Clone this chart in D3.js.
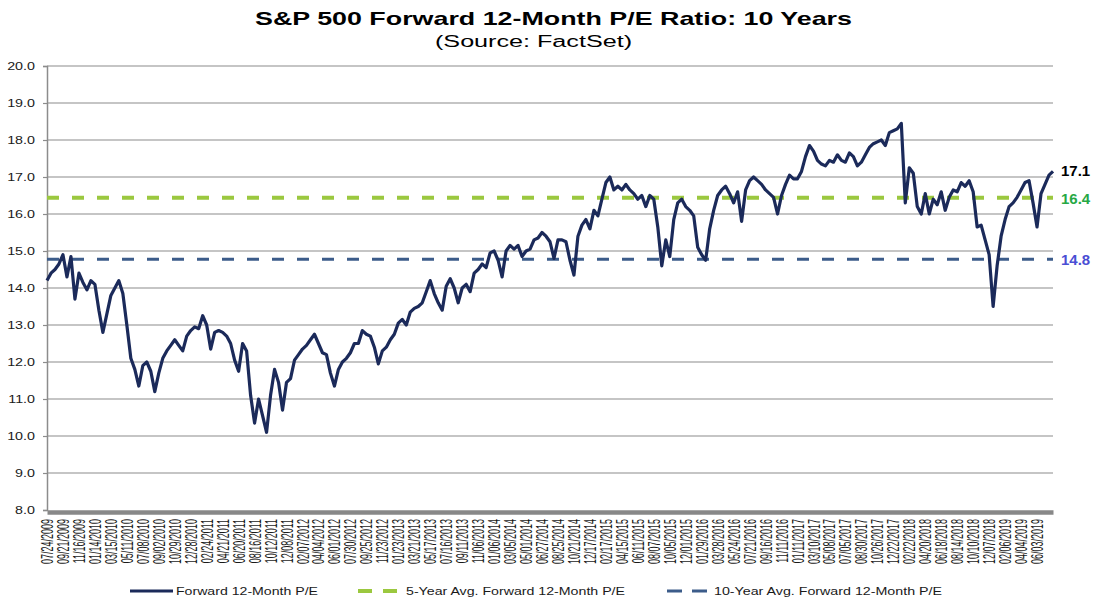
<!DOCTYPE html>
<html lang="en">
<head>
<meta charset="utf-8">
<title>S&amp;P 500 Forward 12-Month P/E Ratio: 10 Years</title>
<script src="https://cdn.jsdelivr.net/npm/d3@7"></script>
<style>
  body { margin: 0; background: #fff; }
  svg text { font-family: "Liberation Sans", Arial, sans-serif; }
</style>
</head>
<body>
<script>
// x-axis category labels, one every 40 trading days
var dateLabels = [
  "07/24/2009","09/21/2009","11/16/2009","01/14/2010","03/15/2010","05/11/2010","07/08/2010",
  "09/02/2010","10/29/2010","12/28/2010","02/24/2011","04/21/2011","06/20/2011","08/16/2011",
  "10/12/2011","12/08/2011","02/07/2012","04/04/2012","06/01/2012","07/30/2012","09/25/2012",
  "11/23/2012","01/23/2013","03/21/2013","05/17/2013","07/16/2013","09/11/2013","11/06/2013",
  "01/06/2014","03/05/2014","05/01/2014","06/27/2014","08/25/2014","10/21/2014","12/17/2014",
  "02/17/2015","04/15/2015","06/11/2015","08/07/2015","10/05/2015","12/01/2015","01/29/2016",
  "03/28/2016","05/24/2016","07/21/2016","09/16/2016","11/11/2016","01/11/2017","03/10/2017",
  "05/08/2017","07/05/2017","08/30/2017","10/26/2017","12/22/2017","02/22/2018","04/20/2018",
  "06/18/2018","08/14/2018","10/10/2018","12/07/2018","02/06/2019","04/04/2019","06/03/2019"
];
var samplesPerLabel = 4; // one value read every 10 trading days

// forward 12-month P/E
var forwardPE = [
  14.2,14.4,14.5,14.65,14.9,14.3,14.85,13.7,14.4,14.15,13.95,14.2,14.1,13.4,12.8,13.3,
  13.8,14.0,14.2,13.85,13.0,12.1,11.8,11.35,11.9,12.0,11.75,11.2,11.7,12.1,12.3,12.45,
  12.6,12.45,12.3,12.7,12.85,12.95,12.9,13.25,13.0,12.35,12.8,12.85,12.8,12.7,12.5,12.05,
  11.75,12.5,12.3,11.1,10.35,11.0,10.55,10.1,11.1,11.8,11.45,10.7,11.45,11.55,12.05,12.2,
  12.35,12.45,12.6,12.75,12.5,12.25,12.2,11.7,11.35,11.8,12.0,12.1,12.25,12.5,12.5,12.85,
  12.75,12.7,12.4,11.95,12.3,12.4,12.6,12.75,13.05,13.15,13.0,13.35,13.45,13.5,13.6,13.9,
  14.2,13.85,13.6,13.4,14.05,14.25,14.0,13.6,14.0,14.1,13.9,14.4,14.5,14.65,14.55,14.95,
  15.0,14.75,14.3,15.0,15.15,15.05,15.15,14.85,15.0,15.05,15.3,15.35,15.5,15.4,15.25,14.8,
  15.3,15.3,15.25,14.75,14.35,15.4,15.7,15.85,15.6,16.1,15.95,16.4,16.85,17.0,16.65,16.75,
  16.65,16.8,16.65,16.55,16.4,16.5,16.2,16.5,16.4,15.65,14.6,15.3,14.85,15.85,16.3,16.4,
  16.2,16.1,15.95,15.1,14.9,14.75,15.6,16.1,16.5,16.65,16.75,16.55,16.3,16.6,15.8,16.65,
  16.9,17.0,16.9,16.8,16.65,16.55,16.45,16.0,16.5,16.8,17.05,16.95,16.95,17.15,17.55,17.85,
  17.7,17.45,17.35,17.3,17.45,17.4,17.6,17.45,17.4,17.65,17.55,17.3,17.4,17.6,17.8,17.9,
  17.95,18.0,17.85,18.2,18.25,18.3,18.45,16.3,17.25,17.1,16.2,16.0,16.55,16.0,16.4,16.25,
  16.6,16.1,16.45,16.65,16.6,16.85,16.75,16.9,16.6,15.65,15.7,15.3,14.9,13.5,14.6,15.4,
  15.85,16.2,16.3,16.45,16.65,16.85,16.9,16.3,15.65,16.55,16.8,17.05,17.15
];

var avg5 = 16.44;
var avg10 = 14.78;
var yTicks = [8, 9, 10, 11, 12, 13, 14, 15, 16, 17, 18, 19, 20];
var legendLabels = [
  "Forward 12-Month P/E",
  "5-Year Avg. Forward 12-Month P/E",
  "10-Year Avg. Forward 12-Month P/E"
];

var W = 1111, H = 613;
var plotL = 47, plotR = 1053, plotT = 66, plotB = 510;
var navy = "#1b2a5a", green = "#9bc83f", steel = "#3c5c8a", grid = "#8c8c8c";

var svg = d3.select("body").append("svg")
  .attr("width", W).attr("height", H);

var x = d3.scaleLinear().domain([0, forwardPE.length - 1]).range([plotL, plotR]);
var y = d3.scaleLinear().domain([8, 20]).range([plotB, plotT]);

// title
svg.append("text")
  .attr("x", 255).attr("y", 25)
  .attr("font-size", 19).attr("font-weight", "bold")
  .attr("textLength", 597).attr("lengthAdjust", "spacingAndGlyphs")
  .text("S&P 500 Forward 12-Month P/E Ratio: 10 Years");
svg.append("text")
  .attr("x", 435).attr("y", 47)
  .attr("font-size", 16)
  .attr("textLength", 197).attr("lengthAdjust", "spacingAndGlyphs")
  .text("(Source: FactSet)");

// grid lines
svg.append("g")
  .selectAll("line")
  .data(yTicks.slice(1))
  .enter().append("line")
  .attr("x1", plotL).attr("x2", plotR)
  .attr("y1", function (d) { return y(d); })
  .attr("y2", function (d) { return y(d); })
  .attr("stroke", grid).attr("stroke-width", 1.2);

// y axis
var yAxis = svg.append("g")
  .attr("transform", "translate(" + plotL + ",0)")
  .call(d3.axisLeft(y).tickValues(yTicks).tickSize(4).tickFormat(d3.format(".1f")));
yAxis.select(".domain").attr("stroke", grid).attr("stroke-width", 1.5);
yAxis.selectAll(".tick line").attr("stroke", grid).attr("stroke-width", 1.2);
yAxis.selectAll(".tick text")
  .attr("x", null).attr("dy", null)
  .attr("transform", "translate(-12,0) scale(1.3,1)")
  .attr("dominant-baseline", "central")
  .attr("font-size", 11).attr("fill", "#1a1a1a")
  .style("font-family", "'Liberation Sans', Arial, sans-serif");

// x axis
var xAxis = svg.append("g")
  .attr("transform", "translate(0," + (plotB + 2) + ")")
  .call(d3.axisBottom(x)
    .tickValues(dateLabels.map(function (d, i) { return i * samplesPerLabel; }))
    .tickSize(0)
    .tickFormat(function (d) { return dateLabels[d / samplesPerLabel]; }));
xAxis.select(".domain").attr("stroke", "#888").attr("stroke-width", 4.5);
xAxis.selectAll(".tick text")
  .attr("y", null).attr("dy", null)
  .attr("transform", "translate(0,7) scale(1.75,1) rotate(-90)")
  .attr("text-anchor", "end")
  .attr("dominant-baseline", "central")
  .attr("font-size", 9).attr("fill", "#1a1a1a")
  .style("font-family", "'Liberation Sans', Arial, sans-serif");

// average lines
svg.append("line")
  .attr("x1", plotL).attr("x2", plotR)
  .attr("y1", y(avg5)).attr("y2", y(avg5))
  .attr("stroke", green).attr("stroke-width", 4)
  .attr("stroke-dasharray", "12,13");
svg.append("line")
  .attr("x1", plotL).attr("x2", plotR)
  .attr("y1", y(avg10)).attr("y2", y(avg10))
  .attr("stroke", steel).attr("stroke-width", 3)
  .attr("stroke-dasharray", "12,13");

// P/E series
var line = d3.line()
  .x(function (d, i) { return x(i); })
  .y(function (d) { return y(d); });
svg.append("path")
  .datum(forwardPE)
  .attr("d", line)
  .attr("fill", "none")
  .attr("stroke", navy).attr("stroke-width", 3.2)
  .attr("stroke-linejoin", "round");

// right-hand value labels
var lastPE = forwardPE[forwardPE.length - 1];
var endLabels = [
  { v: lastPE, dy: -1, color: "#000" },
  { v: avg5, dy: 1, color: "#27a845" },
  { v: avg10, dy: 0, color: "#4a4ed4" }
];
svg.selectAll(".endlabel")
  .data(endLabels)
  .enter().append("text")
  .attr("class", "endlabel")
  .attr("x", 1061)
  .attr("y", function (d) { return y(d.v) + d.dy; })
  .attr("dominant-baseline", "central")
  .attr("font-size", 15).attr("font-weight", "bold")
  .attr("fill", function (d) { return d.color; })
  .text(function (d) { return d.v.toFixed(1); });

// legend
var legendY = 591;
var legendItems = [
  { label: legendLabels[0], x1: 130, x2: 173, tx: 176, tw: 142, color: navy, dash: null, w: 3.2 },
  { label: legendLabels[1], x1: 358, x2: 398, tx: 406, tw: 219, color: green, dash: "14,11", w: 4 },
  { label: legendLabels[2], x1: 667, x2: 707, tx: 714, tw: 228, color: steel, dash: "15,10", w: 3 }
];
var lg = svg.append("g").selectAll("g")
  .data(legendItems)
  .enter().append("g");
lg.append("line")
  .attr("x1", function (d) { return d.x1; })
  .attr("x2", function (d) { return d.x2; })
  .attr("y1", legendY).attr("y2", legendY)
  .attr("stroke", function (d) { return d.color; })
  .attr("stroke-width", function (d) { return d.w; })
  .attr("stroke-dasharray", function (d) { return d.dash; });
lg.append("text")
  .attr("x", function (d) { return d.tx; })
  .attr("y", legendY + 4)
  .attr("font-size", 11.5).attr("fill", "#1a1a1a")
  .attr("textLength", function (d) { return d.tw; })
  .attr("lengthAdjust", "spacingAndGlyphs")
  .text(function (d) { return d.label; });
</script>
</body>
</html>
